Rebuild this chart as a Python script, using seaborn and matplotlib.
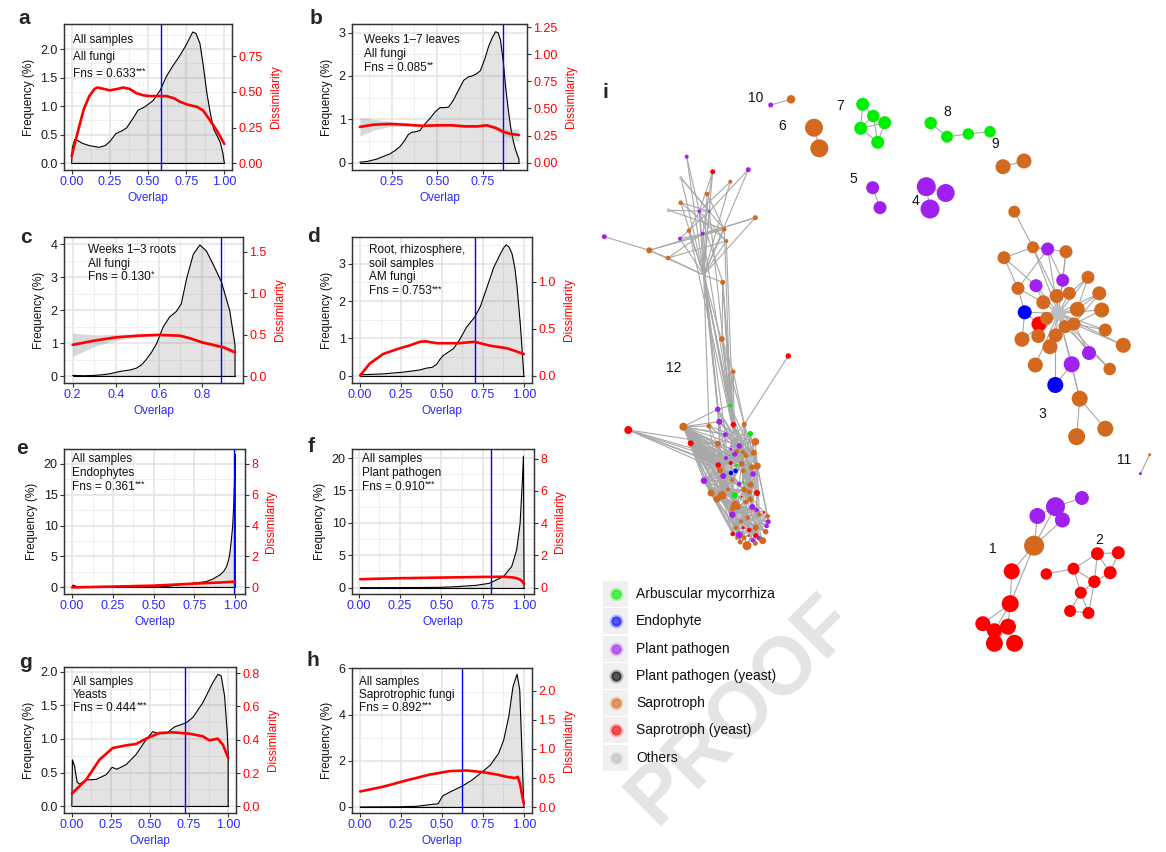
import numpy as np
import pandas as pd
import matplotlib
matplotlib.use("Agg")
import matplotlib.pyplot as plt
import seaborn as sns
from matplotlib.collections import LineCollection
from matplotlib.patches import Rectangle
from matplotlib.ticker import FormatStrFormatter, AutoMinorLocator

# ---------------- density / dissimilarity panels (a-h) ----------------
a_freq_x = [0.0, 0.005, 0.02, 0.04, 0.07, 0.116, 0.18, 0.22, 0.25, 0.29, 0.33, 0.36, 0.40, 0.435, 0.48,
            0.534, 0.58, 0.62, 0.666, 0.70, 0.743, 0.77, 0.793, 0.815, 0.84, 0.86, 0.886, 0.91, 0.93,
            0.955, 0.974, 0.99, 1.0]
a_freq_y = [0.0, 0.28, 0.42, 0.40, 0.35, 0.31, 0.28, 0.31, 0.38, 0.52, 0.57, 0.62, 0.78, 0.93, 0.99,
            1.10, 1.28, 1.52, 1.72, 1.85, 2.04, 2.18, 2.30, 2.27, 2.10, 1.75, 1.22, 0.85, 0.60,
            0.47, 0.36, 0.18, 0.0]
a_diss_x = [0, 0.05, 0.08, 0.116, 0.15, 0.17, 0.21, 0.25, 0.30, 0.336, 0.38, 0.424, 0.47, 0.512, 0.56,
            0.62, 0.67, 0.71, 0.76, 0.82, 0.86, 0.9, 0.95, 1.0]
a_diss_y = [0.05, 0.26, 0.38, 0.47, 0.52, 0.53, 0.52, 0.51, 0.52, 0.53, 0.52, 0.49, 0.475, 0.47, 0.47,
            0.47, 0.455, 0.43, 0.41, 0.395, 0.37, 0.31, 0.23, 0.135]
a_cut = 0.582
a_text = ["All samples", "All fungi"]
a_fns, a_stars = "Fns = 0.633", "***"

b_freq_x = [0.077, 0.12, 0.168, 0.21, 0.24, 0.27, 0.296, 0.32, 0.34, 0.36, 0.378, 0.405, 0.43, 0.46,
            0.49, 0.515, 0.54, 0.561, 0.585, 0.607, 0.644, 0.67, 0.69, 0.715, 0.735, 0.76, 0.78, 0.80,
            0.818, 0.832, 0.845, 0.86, 0.873, 0.887, 0.9, 0.915, 0.928, 0.946, 0.946]
b_freq_y = [0.01, 0.03, 0.08, 0.15, 0.2, 0.28, 0.37, 0.5, 0.64, 0.7, 0.71, 0.74, 0.88, 1.02, 1.18,
            1.27, 1.27, 1.28, 1.42, 1.6, 1.9, 1.98, 2.0, 2.05, 2.12, 2.4, 2.68, 2.88, 3.02, 3.0, 2.83,
            2.35, 1.75, 1.25, 0.83, 0.5, 0.29, 0.08, 0.0]
b_diss_x = [0.077, 0.15, 0.24, 0.33, 0.42, 0.51, 0.58, 0.65, 0.72, 0.77, 0.82, 0.86, 0.9, 0.946]
b_diss_y = [0.33, 0.35, 0.357, 0.35, 0.34, 0.345, 0.345, 0.335, 0.335, 0.345, 0.32, 0.285, 0.265, 0.255]
b_diss_se = [0.086, 0.05, 0.025, 0.015, 0.01, 0.01, 0.01, 0.01, 0.012, 0.015, 0.02, 0.03, 0.04, 0.058]
b_cut = 0.858
b_text = ["Weeks 1\u20137 leaves", "All fungi"]
b_fns, b_stars = "Fns = 0.085", "**"

c_freq_x = [0.2, 0.25, 0.3, 0.34, 0.373, 0.42, 0.47, 0.496, 0.52, 0.54, 0.565, 0.59, 0.62, 0.65, 0.68,
            0.704, 0.73, 0.76, 0.79, 0.82, 0.851, 0.89, 0.928, 0.953, 0.953]
c_freq_y = [0.03, 0.02, 0.03, 0.05, 0.08, 0.15, 0.2, 0.25, 0.35, 0.5, 0.72, 1.0, 1.5, 1.8, 1.96,
            2.2, 3.0, 3.7, 3.98, 3.8, 3.4, 2.86, 2.0, 0.95, 0.0]
c_diss_x = [0.2, 0.3, 0.4, 0.5, 0.6, 0.65, 0.7, 0.75, 0.8, 0.85, 0.9, 0.953]
c_diss_y = [0.38, 0.43, 0.47, 0.49, 0.5, 0.495, 0.49, 0.455, 0.41, 0.38, 0.35, 0.29]
c_diss_se = [0.14, 0.07, 0.035, 0.02, 0.015, 0.015, 0.015, 0.015, 0.018, 0.02, 0.025, 0.03]
c_cut = 0.89
c_text = ["Weeks 1\u20133 roots", "All fungi"]
c_fns, c_stars = "Fns = 0.130", "*"

d_freq_x = [0.0, 0.14, 0.26, 0.365, 0.406, 0.44, 0.467, 0.49, 0.508, 0.57, 0.61, 0.65, 0.70, 0.734,
            0.775, 0.816, 0.857, 0.88, 0.893, 0.91, 0.928, 0.945, 0.959, 0.98, 1.0]
d_freq_y = [0.02, 0.045, 0.09, 0.15, 0.2, 0.22, 0.3, 0.45, 0.54, 0.72, 0.98, 1.3, 1.57, 1.85, 2.37,
            2.9, 3.27, 3.45, 3.51, 3.45, 3.27, 2.9, 2.37, 1.3, 0.0]
d_diss_x = [0, 0.057, 0.14, 0.24, 0.3, 0.365, 0.4, 0.47, 0.6, 0.7, 0.79, 0.9, 1.0]
d_diss_y = [0.0, 0.125, 0.23, 0.29, 0.32, 0.36, 0.365, 0.345, 0.345, 0.36, 0.32, 0.29, 0.23]
d_cut = 0.70
d_text = ["Root, rhizosphere,", "soil samples", "AM fungi"]
d_fns, d_stars = "Fns = 0.753", "***"

e_freq_x = [0.0, 0.005, 0.02, 0.03, 0.3, 0.5, 0.557, 0.62, 0.70, 0.76, 0.82, 0.86, 0.906, 0.93, 0.947,
            0.96, 0.967, 0.975, 0.984, 0.99, 0.994, 0.997, 1.0, 1.0]
e_freq_y = [0.0, 0.35, 0.2, 0.05, 0.02, 0.05, 0.1, 0.28, 0.54, 0.72, 0.92, 1.3, 2.0, 2.6, 3.35,
            4.5, 5.5, 7.3, 9.8, 12.8, 15.8, 18.5, 21.5, 0.0]
e_diss_x = [0, 0.25, 0.5, 0.78, 0.9, 1.0]
e_diss_y = [0.0, 0.05, 0.11, 0.26, 0.31, 0.37]
e_cut = 0.99
e_text = ["All samples", "Endophytes"]
e_fns, e_stars = "Fns = 0.361", "***"

f_freq_x = [0.01, 0.3, 0.5, 0.59, 0.71, 0.79, 0.875, 0.925, 0.955, 0.976, 0.99, 0.996, 1.0]
f_freq_y = [0.0, 0.01, 0.05, 0.15, 0.36, 0.67, 1.7, 3.25, 5.8, 9.9, 16.6, 20.3, 0.0]
f_diss_x = [0.01, 0.25, 0.5, 0.75, 0.875, 0.93, 0.955, 0.975, 0.99, 1.0]
f_diss_y = [0.52, 0.58, 0.62, 0.66, 0.67, 0.63, 0.58, 0.5, 0.37, 0.23]
f_cut = 0.80
f_text = ["All samples", "Plant pathogen"]
f_fns, f_stars = "Fns = 0.910", "***"

g_freq_x = [0.0, 0.004, 0.017, 0.034, 0.049, 0.092, 0.156, 0.22, 0.258, 0.288, 0.348, 0.411, 0.475,
            0.518, 0.55, 0.603, 0.657, 0.731, 0.774, 0.838, 0.902, 0.934, 0.955, 0.977, 0.994, 1.0, 1.0]
g_freq_y = [0.0, 0.69, 0.6, 0.36, 0.33, 0.39, 0.4, 0.47, 0.58, 0.55, 0.62, 0.77, 0.99,
            1.11, 1.08, 1.08, 1.18, 1.24, 1.32, 1.54, 1.84, 1.96, 1.94, 1.64, 1.09, 0.79, 0.0]
g_diss_x = [0.0, 0.092, 0.177, 0.262, 0.348, 0.411, 0.475, 0.56, 0.645, 0.752, 0.838, 0.88, 0.934,
            0.966, 1.0]
g_diss_y = [0.076, 0.16, 0.28, 0.35, 0.366, 0.374, 0.406, 0.44, 0.444, 0.436, 0.42, 0.396, 0.406,
            0.37, 0.29]
g_cut = 0.723
g_text = ["All samples", "Yeasts"]
g_fns, g_stars = "Fns = 0.444", "***"

h_freq_x = [0.0, 0.25, 0.344, 0.447, 0.477, 0.504, 0.549, 0.625, 0.682, 0.734, 0.795, 0.846, 0.877,
            0.908, 0.934, 0.959, 0.975, 0.986, 1.0]
h_freq_y = [0.0, 0.01, 0.03, 0.12, 0.14, 0.48, 0.65, 0.91, 1.16, 1.45, 1.81, 2.32, 2.9,
            3.91, 5.22, 5.75, 5.07, 2.9, 0.0]
h_diss_x = [0.0, 0.139, 0.283, 0.426, 0.549, 0.652, 0.754, 0.836, 0.898, 0.947, 0.963, 0.977, 0.988, 1.0]
h_diss_y = [0.27, 0.35, 0.46, 0.56, 0.62, 0.63, 0.6, 0.56, 0.52, 0.5, 0.52, 0.4, 0.23, 0.06]
h_cut = 0.625
h_text = ["All samples", "Saprotrophic fungi"]
h_fns, h_stars = "Fns = 0.892", "***"

# ---------------- network (i) ----------------
# layout coordinates, node abundance (drawn as diameter), guild code, edges (local indices)
n10_x, n10_y, n10_ab, n10_cat = [770.7, 791.0], [105.0, 99.3], [5, 8.5], "po"
n10_edges = [(0, 1)]
n6_x, n6_y, n6_ab, n6_cat = [814.0, 819.3], [127.7, 148.3], [18, 18], "oo"
n6_edges = [(0, 1)]
n7_x = [862.7, 873.3, 884.7, 860.7, 877.7]
n7_y = [104.3, 116.0, 122.7, 128.3, 142.3]
n7_ab, n7_cat = [13, 12.5, 13, 13, 13], "ggggg"
n7_edges = [(0, 1), (0, 3), (1, 2), (1, 3), (2, 3), (2, 4), (3, 4), (1, 4)]
n5_x, n5_y, n5_ab, n5_cat = [872.7, 880.0], [187.7, 207.7], [13, 13], "pp"
n5_edges = [(0, 1)]
n8_x, n8_y = [930.7, 947.0, 968.3, 990.0], [123.0, 136.7, 134.0, 131.7]
n8_ab, n8_cat = [12.5, 12, 11.5, 11.5], "gggg"
n8_edges = [(0, 1), (1, 2), (2, 3)]
n9_x, n9_y, n9_ab, n9_cat = [1003.0, 1024.0], [166.7, 161.0], [15, 15], "oo"
n9_edges = [(0, 1)]
n4_x, n4_y, n4_ab, n4_cat = [926.3, 945.7, 930.0], [186.7, 193.0, 209.0], [19, 18, 19], "ppp"
n4_edges = [(0, 2), (0, 1)]
n11_x, n11_y, n11_ab, n11_cat = [1149.6, 1140.4], [454.7, 473.7], [3, 3], "op"
n11_edges = [(0, 1)]
n1_x = [1081.9, 1055.5, 1037.4, 1062.4, 1034.1, 1011.7, 1010.2, 982.8, 994.4, 1008.0, 994.4, 1014.6]
n1_y = [498.0, 506.7, 516.0, 520.0, 545.7, 571.3, 603.7, 623.7, 630.7, 626.7, 643.3, 643.3]
n1_ab = [14, 19, 16, 15, 20, 16, 17, 15, 15, 16, 17, 17]
n1_cat = "ppppo" + "rrrrrrr"
n1_edges = [(0, 1), (1, 2), (1, 3), (1, 4), (2, 4), (3, 4), (4, 5), (4, 6), (5, 6), (6, 7), (6, 8),
            (6, 9), (7, 8), (8, 9), (8, 10), (9, 11), (7, 10), (9, 10)]
n2_x = [1046.3, 1073.5, 1097.4, 1118.3, 1110.2, 1094.4, 1080.8, 1070.1, 1088.5]
n2_y = [574.0, 568.7, 553.7, 552.7, 572.7, 581.7, 592.7, 611.0, 613.0]
n2_ab = [11.5, 12, 13, 13, 13, 12.5, 12, 12, 12]
n2_cat = "rrrrrrrrr"
n2_edges = [(0, 1), (1, 2), (2, 3), (2, 4), (3, 4), (1, 5), (2, 5), (4, 5), (5, 6), (1, 6), (6, 7),
            (6, 8), (7, 8), (5, 8)]
n3_x = [1014.3, 1033.0, 1047.7, 1066.0, 1004.0, 1062.7, 1088.0, 1036.0, 1018.0, 1099.3, 1056.7, 1069.3,
        1043.3, 1101.7, 1077.3, 1058.3, 1024.7, 1039.0, 1046.7, 1105.3, 1065.0, 1074.0, 1022.0, 1038.3,
        1055.7, 1050.0, 1123.3, 1089.0, 1071.7, 1035.3, 1109.7, 1055.3, 1079.7, 1076.7, 1105.3]
n3_y = [211.7, 247.3, 249.0, 251.7, 257.7, 280.3, 277.3, 285.7, 288.3, 293.3, 296.0, 293.3,
        302.3, 310.0, 309.3, 313.3, 312.3, 324.0, 318.3, 330.0, 326.7, 324.0, 339.3, 336.0,
        335.3, 346.7, 345.3, 353.0, 364.3, 365.0, 369.0, 385.0, 398.7, 436.7, 428.7]
n3_ab = [12, 12, 13, 13, 13, 13, 13, 13, 13, 14, 14, 13, 14, 15, 15, 15, 14, 15, 13, 13, 13, 13,
         15, 14, 14, 15, 15, 14, 16, 15, 12.5, 16, 16, 17, 16]
n3_cat = "oopoopopooooooo" + "nbr" + "ooooooooo" + "pp" + "oo" + "b" + "ooo"
n3_edges = [(0, 1), (1, 4), (1, 2), (1, 3), (1, 15), (1, 10), (2, 15), (2, 8), (3, 15), (3, 5), (4, 8),
            (4, 7), (5, 15), (6, 15), (6, 14), (7, 15), (7, 12), (8, 16), (8, 12), (9, 15), (9, 21),
            (10, 15), (11, 15), (12, 15), (13, 15), (13, 21), (14, 15), (16, 17), (16, 22), (16, 15),
            (17, 15), (18, 15), (19, 15), (19, 21), (20, 15), (21, 15), (22, 15), (23, 15), (24, 15),
            (25, 15), (26, 15), (26, 21), (27, 15), (28, 15), (29, 15), (30, 15), (30, 20), (31, 24),
            (31, 28), (32, 15), (32, 28), (32, 33), (32, 34), (27, 21), (6, 11), (5, 2), (9, 14)]
# cluster 12, upper fan
n12a_x = [686.7, 712.7, 748.3, 681.0, 730.3, 707.0, 680.7, 668.7, 699.3, 709.3, 755.3, 689.0,
          724.3, 702.7, 680.0, 726.3, 604.3, 649.3, 668.0, 722.7, 722.0, 733.3, 788.3, 703.7]
n12a_y = [156.7, 171.7, 169.7, 178.0, 181.7, 194.0, 202.7, 210.3, 211.3, 211.3, 217.7, 230.7,
          229.3, 233.7, 238.7, 241.0, 236.7, 250.3, 258.0, 282.3, 339.0, 371.7, 356.0, 275.0]
n12a_ab = [4, 5, 5, 3.5, 4, 4.5, 4.5, 4, 3.5, 2.5, 5, 4.5, 4.5, 4, 4, 4, 5, 6, 4.5, 5, 5.5, 4.5, 5.5, 1.5]
n12a_cat = "prpnooonppoooppopooooorn"
n12a_edges = [(0, 8), (0, 23), (1, 23), (1, 8), (1, 13), (2, 9), (2, 23), (3, 9), (3, 23), (4, 23),
              (4, 8), (5, 23), (5, 12), (6, 9), (6, 23), (7, 9), (7, 12), (8, 11), (8, 23), (9, 23),
              (9, 14), (10, 13), (10, 23), (10, 17), (11, 23), (12, 23), (12, 14), (13, 23), (14, 23),
              (15, 23), (15, 8), (16, 17), (17, 12), (17, 18), (17, 23), (18, 23), (18, 15), (19, 23),
              (19, 8), (20, 19), (13, 18), (6, 15), (3, 12), (20, 21)]
# cluster 12, dense core
n12b_x = [628.3, 683.3, 690.7, 717.7, 730.3, 719.3, 709.0, 733.3, 744.3, 725.3, 734.3, 750.3, 755.3,
          717.7, 739.3, 730.7, 736.7, 734.7, 743.0, 753.7, 746.0, 729.7, 726.0, 750.0, 730.7, 741.7,
          718.3, 720.0, 727.7, 736.7, 752.0, 757.3, 731.0, 735.7, 743.3, 723.3, 753.0, 704.0, 732.3,
          743.0, 739.3, 750.7, 728.0, 744.3, 749.3, 711.0, 722.0, 717.0, 734.7, 757.0, 741.7, 750.3,
          745.7, 735.3, 732.7, 737.7, 752.3, 756.7, 739.3, 732.3, 747.7, 764.0, 759.3, 767.7, 756.7,
          768.3, 741.0, 736.0, 743.3, 749.3, 755.7, 766.7, 765.7, 732.7, 739.3, 744.0, 755.7, 759.0,
          748.7, 762.7, 752.7, 740.3, 755.3, 747.0, 736.7]
n12b_y = [430.0, 426.7, 443.3, 409.3, 405.7, 421.7, 426.0, 424.7, 424.3, 434.7, 435.7, 433.7, 441.7,
          443.7, 446.0, 449.3, 451.7, 454.3, 452.0, 452.7, 455.3, 455.3, 458.0, 459.0, 463.0, 463.7,
          465.0, 470.3, 467.3, 465.3, 467.3, 466.0, 473.0, 471.0, 470.7, 476.0, 474.0, 480.7, 480.0,
          482.3, 484.0, 484.7, 489.3, 489.7, 492.0, 493.0, 495.3, 499.0, 495.3, 493.0, 497.0, 499.3,
          502.0, 505.0, 508.3, 506.7, 507.0, 510.0, 516.0, 514.7, 517.7, 512.3, 514.3, 516.3, 520.7,
          521.7, 521.3, 527.7, 527.7, 530.0, 527.7, 526.0, 531.7, 534.0, 535.0, 538.0, 535.7, 538.3,
          536.0, 540.7, 540.3, 542.0, 543.3, 545.7, 538.3]
n12b_ab = [8, 8, 6, 5.5, 4, 6, 5, 5.5, 5, 5, 5, 5.5, 7.5, 6, 5.5, 3, 5, 5, 4, 6, 5, 2, 4, 5, 4, 5.5,
           5.5, 6, 6, 3, 6, 7, 4.5, 4.5, 4.5, 6, 5.5, 6.5, 4, 3, 4.5, 6, 4, 5.5, 5, 7, 8.5, 7, 6, 6,
           2, 5.5, 4.5, 8, 6, 6, 6, 4.5, 5.5, 6.5, 4.5, 2.5, 4, 4.5, 4, 5, 4, 4, 3, 4.5, 6, 4.5, 5.5,
           4.5, 7, 5, 5, 4.5, 2, 7, 4.5, 5, 5, 9, 3]
n12b_cat = ("rorpgporopngooppopooogpnrorongoobbopppogpooooooogrroooooppnporoonpoorrop"
            "orporpropoooo")
n12b_hubs = {
    0: [26, 27, 24, 13, 28, 22],
    1: [13, 26, 27, 28, 35, 22, 24, 37, 9, 5, 3, 6, 14, 16, 17, 21, 25, 29, 32, 33, 38, 40, 42, 45,
        46, 47, 53, 10],
    2: [26, 27, 28, 35, 13, 24, 22, 32, 17, 21, 29, 33, 38, 40, 42, 45, 46, 47, 53, 54, 59, 48],
    37: [28, 27, 35, 46, 45, 42, 26, 32, 38, 13, 17, 53, 54, 59, 73, 74, 67, 81, 84, 66, 58, 48, 40],
    10: [3, 4, 5, 6, 7, 8, 9, 11, 12, 13, 14, 15, 16, 17, 18, 19, 20, 22, 24, 25, 28, 33, 36],
    28: [5, 6, 9, 13, 14, 16, 17, 21, 22, 24, 25, 26, 27, 29, 32, 33, 34, 35, 38, 40, 42, 45, 46, 47,
         48, 53],
    23: [8, 11, 12, 14, 18, 19, 20, 25, 29, 30, 31, 34, 36, 39, 41, 43, 44, 49, 51, 52, 56],
    48: [35, 38, 40, 42, 43, 45, 46, 47, 50, 52, 53, 54, 55, 58, 59, 60, 66, 67, 73, 74],
    58: [51, 52, 54, 55, 56, 57, 59, 60, 62, 63, 64, 65, 66, 67, 68, 69, 70, 71, 72, 73, 74, 75, 76,
         77, 79, 80, 81, 83, 84],
    64: [56, 57, 60, 61, 62, 63, 65, 69, 70, 71, 72, 76, 77, 79, 80, 82, 83, 49, 51, 44],
    34: [3, 4, 7, 8, 11, 12, 19, 30, 31, 36, 41, 43, 49],
    53: [27, 35, 37, 42, 45, 46, 47, 54, 59, 67, 73, 74, 81, 84],
    14: [3, 4, 5, 7, 8, 9, 11, 12, 19, 20, 23, 24, 25, 26, 27, 30, 31, 33, 34, 36, 41, 43, 44],
    25: [13, 15, 16, 18, 21, 22, 27, 30, 31, 35, 36, 38, 39, 40, 41, 42, 43, 44, 45, 46, 47, 49, 51, 52],
    43: [27, 30, 31, 35, 36, 38, 40, 42, 45, 46, 47, 49, 51, 52, 53, 54, 55, 56, 57, 60, 62, 63, 66, 70],
    55: [45, 46, 47, 49, 51, 56, 57, 59, 60, 61, 62, 63, 65, 66, 67, 68, 69, 70, 71, 72, 73, 74, 75,
         81, 84],
    70: [53, 54, 59, 66, 67, 68, 69, 71, 72, 73, 74, 75, 76, 77, 78, 79, 80, 81, 82, 83, 84, 65, 63],
    20: [3, 4, 5, 6, 7, 8, 9, 11, 12, 13, 15, 16, 17, 21, 22, 24, 26, 27, 28, 30, 31, 32],
    46: [3, 5, 6, 9, 13, 17, 22, 26, 27, 35, 37, 42, 45, 47, 54, 59, 73, 74, 67, 81],
    31: [4, 7, 8, 11, 12, 19, 30, 36, 41, 44, 49, 51, 56, 57, 62, 63, 65],
    4: [3], 5: [10],
}
# links fan (upper index) -> core (dense index)
n12_links = [(23, 4), (23, 3), (23, 7), (23, 5), (23, 10), (23, 9), (23, 8), (23, 6), (19, 4),
             (19, 10), (19, 7), (20, 7), (20, 4), (21, 8), (21, 10), (21, 4), (22, 8), (9, 4), (13, 7),
             (8, 5), (12, 4), (15, 7), (11, 10)]

cluster_names = ["1", "2", "3", "4", "5", "6", "7", "8", "9", "10", "11", "12"]
cluster_lab_x = [993.0, 1099.2, 1042.7, 915.7, 853.7, 781.7, 840.3, 947.3, 995.3, 755.7, 1124.0, 674.0]
cluster_lab_y = [549.0, 540.3, 414.0, 200.7, 179.0, 126.0, 105.7, 112.3, 144.0, 98.3, 460.0, 368.3]

guild_codes = ["g", "b", "p", "k", "o", "r", "n"]
guild_names = ["Arbuscular mycorrhiza", "Endophyte", "Plant pathogen", "Plant pathogen (yeast)",
               "Saprotroph", "Saprotroph (yeast)", "Others"]
guild_colors = ["#00ee00", "#0000ff", "#a020f0", "#000000", "#d2691e", "#ff0000", "#bebebe"]

# ---------------- style ----------------
sns.set_theme(style="ticks")
plt.rcParams["font.family"] = ["Liberation Sans", "DejaVu Sans"]
W, H = 1166, 852
fig = plt.figure(figsize=(W / 100, H / 100), dpi=100)
BLUE = "#2a2aff"
RED = "#ff0000"


def fx(px):
    return px / W


def fy(py):
    return 1 - py / H


def box(l, t, r, b):
    return [l / W, 1 - b / H, (r - l) / W, (b - t) / H]


# watermark first, behind everything
fig.text(fx(742), fy(710), "PROOF", rotation=45, fontsize=58, fontweight="bold", color="#e4e4e4",
         ha="center", va="center", zorder=-5)

panels = [
    dict(tag="a", box=(64, 24, 232, 170), f=(a_freq_x, a_freq_y), d=(a_diss_x, a_diss_y), se=None,
         cut=a_cut, text=a_text, fns=a_fns, stars=a_stars, xlim=(-0.05, 1.05), ylim=(-0.117, 2.44),
         y2lim=(-0.047, 0.974), xt=[0, .25, .5, .75, 1], yt=[0, .5, 1, 1.5, 2], y2t=[0, .25, .5, .75],
         fmt=("%.2f", "%.1f", "%.2f"), tpos=(73, 40, 17), lpos=(24, 18)),
    dict(tag="b", box=(352, 24, 527, 170), f=(b_freq_x, b_freq_y), d=(b_diss_x, b_diss_y),
         se=b_diss_se, cut=b_cut, text=b_text, fns=b_fns, stars=b_stars, xlim=(0.034, 0.99),
         ylim=(-0.17, 3.2), y2lim=(-0.068, 1.28), xt=[.25, .5, .75], yt=[0, 1, 2, 3],
         y2t=[0, .25, .5, .75, 1, 1.25], fmt=("%.2f", "%.0f", "%.2f"), tpos=(364, 40, 14),
         lpos=(316, 18)),
    dict(tag="c", box=(64, 237, 243, 383), f=(c_freq_x, c_freq_y), d=(c_diss_x, c_diss_y),
         se=c_diss_se, cut=c_cut, text=c_text, fns=c_fns, stars=c_stars, xlim=(0.16, 0.99),
         ylim=(-0.2, 4.22), y2lim=(-0.08, 1.68), xt=[.2, .4, .6, .8], yt=[0, 1, 2, 3, 4],
         y2t=[0, .5, 1, 1.5], fmt=("%.1f", "%.0f", "%.1f"), tpos=(88, 250, 13.5), lpos=(26, 238)),
    dict(tag="d", box=(352, 237, 532, 383), f=(d_freq_x, d_freq_y), d=(d_diss_x, d_diss_y), se=None,
         cut=d_cut, text=d_text, fns=d_fns, stars=d_stars, xlim=(-0.05, 1.05), ylim=(-0.2, 3.72),
         y2lim=(-0.08, 1.48), xt=[0, .25, .5, .75, 1], yt=[0, 1, 2, 3], y2t=[0, .5, 1],
         fmt=("%.2f", "%.0f", "%.1f"), tpos=(369, 250, 13.7), lpos=(313, 236)),
    dict(tag="e", box=(64, 449, 245, 594), f=(e_freq_x, e_freq_y), d=(e_diss_x, e_diss_y), se=None,
         cut=e_cut, text=e_text, fns=e_fns, stars=e_stars, xlim=(-0.05, 1.06), ylim=(-1.08, 22.4),
         y2lim=(-0.43, 8.96), xt=[0, .25, .5, .75, 1], yt=[0, 5, 10, 15, 20], y2t=[0, 2, 4, 6, 8],
         fmt=("%.2f", "%.0f", "%.0f"), tpos=(72, 459, 14), lpos=(22, 449)),
    dict(tag="f", box=(352, 449, 534, 594), f=(f_freq_x, f_freq_y), d=(f_diss_x, f_diss_y), se=None,
         cut=f_cut, text=f_text, fns=f_fns, stars=f_stars, xlim=(-0.04, 1.06), ylim=(-0.98, 21.4),
         y2lim=(-0.4, 8.6), xt=[0, .25, .5, .75, 1], yt=[0, 5, 10, 15, 20], y2t=[0, 2, 4, 6, 8],
         fmt=("%.2f", "%.0f", "%.0f"), tpos=(362, 459, 14), lpos=(311, 446)),
    dict(tag="g", box=(64, 667, 236, 813), f=(g_freq_x, g_freq_y), d=(g_diss_x, g_diss_y), se=None,
         cut=g_cut, text=g_text, fns=g_fns, stars=g_stars, xlim=(-0.05, 1.05), ylim=(-0.1, 2.07),
         y2lim=(-0.04, 0.836), xt=[0, .25, .5, .75, 1], yt=[0, .5, 1, 1.5, 2],
         y2t=[0, .2, .4, .6, .8], fmt=("%.2f", "%.1f", "%.1f"), tpos=(73, 682, 13), lpos=(25, 663)),
    dict(tag="h", box=(352, 668, 532, 813), f=(h_freq_x, h_freq_y), d=(h_diss_x, h_diss_y), se=None,
         cut=h_cut, text=h_text, fns=h_fns, stars=h_stars, xlim=(-0.05, 1.05), ylim=(-0.26, 6.02),
         y2lim=(-0.1, 2.39), xt=[0, .25, .5, .75, 1], yt=[0, 2, 4, 6], y2t=[0, .5, 1, 1.5, 2],
         fmt=("%.2f", "%.0f", "%.1f"), tpos=(359, 682, 13), lpos=(313, 660)),
]


def draw_panel(p):
    ax = fig.add_axes(box(*p["box"]))
    ax2 = ax.twinx()
    ax.set_xlim(*p["xlim"])
    ax.set_ylim(*p["ylim"])
    ax2.set_ylim(*p["y2lim"])
    ax.set_xticks(p["xt"])
    ax.set_yticks(p["yt"])
    ax2.set_yticks(p["y2t"])
    ax.xaxis.set_major_formatter(FormatStrFormatter(p["fmt"][0]))
    ax.yaxis.set_major_formatter(FormatStrFormatter(p["fmt"][1]))
    ax2.yaxis.set_major_formatter(FormatStrFormatter(p["fmt"][2]))
    ax.xaxis.set_minor_locator(AutoMinorLocator(2))
    ax.yaxis.set_minor_locator(AutoMinorLocator(2))
    ax.grid(which="major", color="#e3e3e3", lw=1.1)
    ax.grid(which="minor", color="#ececec", lw=0.6)
    ax.set_axisbelow(True)

    x, y = p["f"]
    ax.fill_between(x, 0, y, color="grey", alpha=0.22, lw=0, zorder=2)
    sns.lineplot(x=x, y=y, ax=ax, color="black", lw=0.8, sort=False, estimator=None, zorder=3)
    ax.plot([x[0], x[-1]], [0, 0], color="black", lw=0.8, zorder=3)
    ax.axvline(p["cut"], color="blue", lw=1.0, zorder=4)

    dx, dy = p["d"]
    if p["se"] is not None:
        lo = [v - s for v, s in zip(dy, p["se"])]
        hi = [v + s for v, s in zip(dy, p["se"])]
        ax2.fill_between(dx, lo, hi, color="grey", alpha=0.3, lw=0)
    sns.lineplot(x=dx, y=dy, ax=ax2, color=RED, lw=1.9, sort=False, estimator=None)

    for a in (ax, ax2):
        for s in a.spines.values():
            s.set_color("#333333")
            s.set_linewidth(0.9)
    ax.tick_params(which="minor", length=0)
    ax.tick_params(axis="x", labelcolor=BLUE, color="#333333", length=3, width=0.8, labelsize=9, pad=1.5)
    ax.tick_params(axis="y", labelcolor="#1a1a1a", color="#333333", length=3, width=0.8, labelsize=9, pad=1.5)
    ax2.tick_params(axis="y", labelcolor=RED, color="#333333", length=3, width=0.8, labelsize=9, pad=1.5)
    ax.set_xlabel("Overlap", color=BLUE, fontsize=8.5, labelpad=3)
    ax.set_ylabel("Frequency (%)", color="#111111", fontsize=8.5, labelpad=4)
    ax2.set_ylabel("Dissimilarity", color=RED, fontsize=8.5, labelpad=5)

    tx, ty, step = p["tpos"]
    lines = p["text"] + [p["fns"]]
    for k, line in enumerate(lines):
        t = fig.text(fx(tx), fy(ty + k * step), line, fontsize=8.5, va="center", ha="left",
                     color="#111111")
    ax.annotate(p["stars"], xy=(1, 1), xycoords=t, xytext=(0.4, 0.6), textcoords="offset points",
                fontsize=6.5, va="top", ha="left", color="#111111")
    lx, ly = p["lpos"]
    fig.text(fx(lx), fy(ly), p["tag"], fontsize=15, fontweight="bold", ha="center", va="center")


for p in panels:
    draw_panel(p)

# ---------------- network ----------------
clusters = [
    (n1_x, n1_y, n1_ab, n1_cat, n1_edges), (n2_x, n2_y, n2_ab, n2_cat, n2_edges),
    (n3_x, n3_y, n3_ab, n3_cat, n3_edges), (n4_x, n4_y, n4_ab, n4_cat, n4_edges),
    (n5_x, n5_y, n5_ab, n5_cat, n5_edges), (n6_x, n6_y, n6_ab, n6_cat, n6_edges),
    (n7_x, n7_y, n7_ab, n7_cat, n7_edges), (n8_x, n8_y, n8_ab, n8_cat, n8_edges),
    (n9_x, n9_y, n9_ab, n9_cat, n9_edges), (n10_x, n10_y, n10_ab, n10_cat, n10_edges),
    (n11_x, n11_y, n11_ab, n11_cat, n11_edges),
]
n12b_edges = [(h, j) for h, nb in n12b_hubs.items() for j in nb]
clusters.append((n12a_x, n12a_y, n12a_ab, n12a_cat, n12a_edges))
clusters.append((n12b_x, n12b_y, n12b_ab, n12b_cat, n12b_edges))

code_to_name = dict(zip(guild_codes, guild_names))
frames, segs = [], []
for cx, cy, cab, ccat, cedges in clusters:
    frames.append(pd.DataFrame({"x": cx, "y": cy, "ab": cab,
                                "guild": [code_to_name[c] for c in ccat]}))
    for i, j in cedges:
        segs.append([(cx[i], cy[i]), (cx[j], cy[j])])
for i, j in n12_links:
    segs.append([(n12a_x[i], n12a_y[i]), (n12b_x[j], n12b_y[j])])
nodes = pd.concat(frames, ignore_index=True)

axn = fig.add_axes(box(590, 60, 1166, 852))
axn.patch.set_visible(False)
axn.set_xlim(590, 1166)
axn.set_ylim(852, 60)
axn.axis("off")
axn.add_collection(LineCollection(segs, colors="#a8a8a8", linewidths=0.8, zorder=1))
sns.scatterplot(data=nodes, x="x", y="y", hue="guild", palette=dict(zip(guild_names, guild_colors)),
                s=(nodes["ab"].to_numpy() * 0.72) ** 2, linewidth=0, legend=False, ax=axn, zorder=2)
for name, lx, ly in zip(cluster_names, cluster_lab_x, cluster_lab_y):
    axn.text(lx, ly, name, fontsize=10, ha="center", va="center", color="#111111")
fig.text(fx(605), fy(92), "i", fontsize=15, fontweight="bold", ha="center", va="center")

# legend
for k, (name, col) in enumerate(zip(guild_names, guild_colors)):
    yk = 594 + k * 27.3
    axn.add_patch(Rectangle((603, yk - 13), 25, 26, facecolor="#f0f0f0", edgecolor="none", zorder=3))
    axn.scatter([615.5], [yk], s=(14 * 0.72) ** 2, color=col, alpha=0.22, lw=0, zorder=4)
    axn.scatter([615.5], [yk], s=(8.5 * 0.72) ** 2, facecolor=col, edgecolor=col, alpha=0.55,
                lw=1.3, zorder=5)
    axn.text(636, yk, name, fontsize=10, va="center", ha="left", color="#111111", zorder=5)

fig.savefig("out.png", dpi=100)
